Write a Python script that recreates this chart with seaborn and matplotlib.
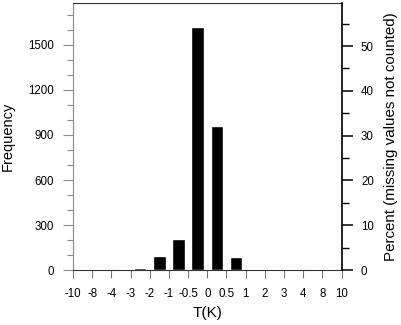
import numpy as np
import pandas as pd
import matplotlib
matplotlib.use('Agg')
import matplotlib.pyplot as plt
from matplotlib.ticker import MultipleLocator
import seaborn as sns

# Bin edges (tick labels) and counts per bin
edge_labels = ["-10", "-8", "-4", "-3", "-2", "-1", "-0.5", "0", "0.5", "1", "2", "3", "4", "8", "10"]
bin_names = [f"{a}..{b}" for a, b in zip(edge_labels[:-1], edge_labels[1:])]
counts = [0, 0, 0, 15, 95, 205, 1620, 960, 90, 0, 0, 0, 0, 0]

total = sum(counts)
df = pd.DataFrame({'bin': bin_names, 'count': counts})

sns.set_style("ticks")
plt.rcParams['font.family'] = ['Liberation Sans', 'DejaVu Sans']
plt.rcParams['text.color'] = 'black'

fig = plt.figure(figsize=(4.02, 3.25), dpi=100)
ax = fig.add_axes([0.1816, 0.169, 0.668, 0.822])

sns.barplot(data=df, x='bin', y='count', order=bin_names, color='black',
            width=0.66, saturation=1, ax=ax)

ymax = 1780
ax.set_xlim(-0.5, len(bin_names) - 0.5)
ax.set_ylim(0, ymax)
ax.set_xticks(np.arange(len(edge_labels)) - 0.5)
ax.set_xticklabels(edge_labels)
ax.yaxis.set_major_locator(MultipleLocator(300))
ax.yaxis.set_minor_locator(MultipleLocator(100))

left_col = '#8a8a8a'
frame_col = '#333333'
ax.spines['left'].set_color(left_col)
ax.spines['left'].set_linewidth(0.8)
for s in ['bottom', 'top']:
    ax.spines[s].set_color(frame_col)
    ax.spines[s].set_linewidth(0.8)
    ax.spines[s].set_visible(True)
ax.spines['right'].set_visible(False)

ax.tick_params(axis='x', direction='out', length=6, width=0.8, color='#777777',
               labelsize=8.3, labelcolor='black', pad=7)
ax.tick_params(axis='y', which='major', direction='out', length=7, width=0.8,
               color=left_col, labelsize=8.3, labelcolor='black', pad=7)
ax.tick_params(axis='y', which='minor', direction='out', length=4, width=0.8,
               color=left_col)

ax.set_xlabel("T(K)", fontsize=11, labelpad=4, color='black')
ax.set_ylabel("Frequency", fontsize=10.5, labelpad=9, color='black')

# Percent axis
ax2 = ax.twinx()
ax2.set_ylim(0, ymax / total * 100)
ax2.yaxis.set_major_locator(MultipleLocator(10))
ax2.yaxis.set_minor_locator(MultipleLocator(5))
for s in ['left', 'bottom', 'top']:
    ax2.spines[s].set_visible(False)
ax2.spines['right'].set_color('black')
ax2.spines['right'].set_linewidth(1.2)
ax2.tick_params(axis='y', which='major', direction='out', length=8, width=1.1,
                color='black', labelsize=8.3, labelcolor='black', pad=6)
ax2.tick_params(axis='y', which='minor', direction='out', length=5, width=1.0,
                color='black')
ax2.set_ylabel("Percent (missing values not counted)", fontsize=10.9, labelpad=7,
               color='black')

fig.savefig("out.png", dpi=100)
plt.close(fig)
